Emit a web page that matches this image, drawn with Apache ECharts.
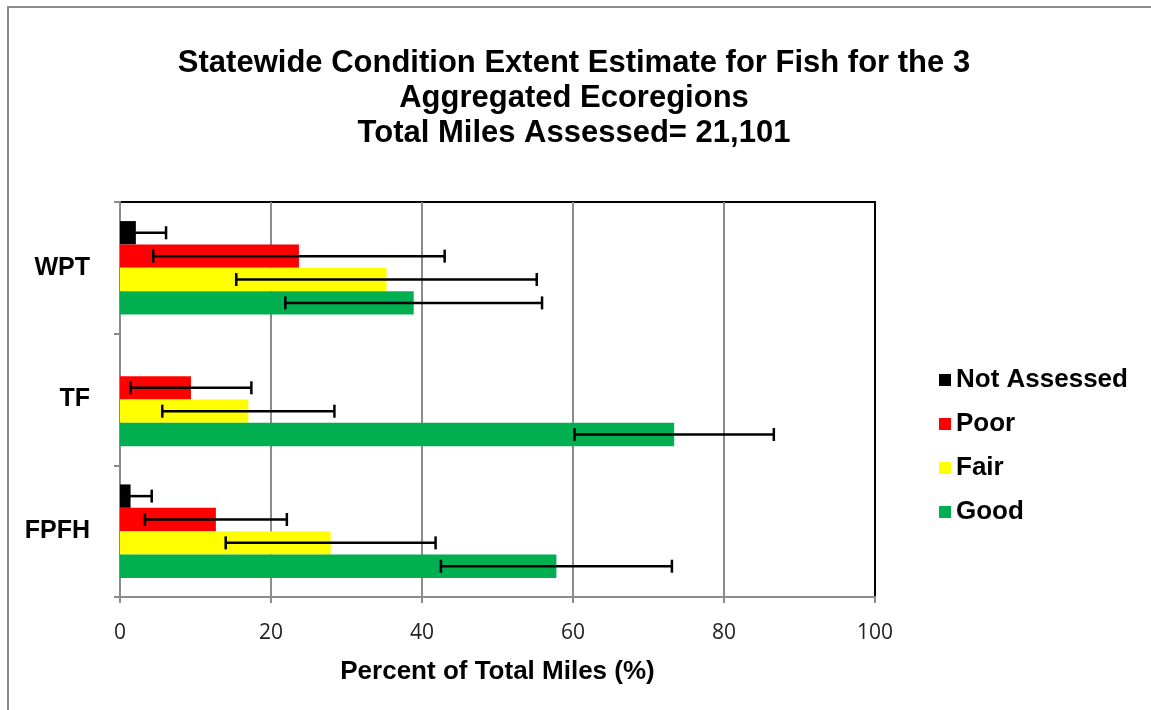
<!DOCTYPE html>
<html>
<head>
<meta charset="utf-8">
<script src="https://cdn.jsdelivr.net/npm/echarts@6/dist/echarts.min.js"></script>
<style>
  html, body { margin: 0; padding: 0; background: #fff; }
  #chart { width: 1151px; height: 710px; }
</style>
</head>
<body>
<div id="chart"></div>
<script>
// categories from bottom to top (category axis starts at the bottom)
const regions = ['FPFH', 'TF', 'WPT']
const seriesNames = ['Not Assessed', 'Poor', 'Fair', 'Good']
const seriesColors = ['#000000', '#ff0000', '#ffff00', '#00b050']

// percent of total miles, per region (FPFH, TF, WPT)
const notAssessed = [1.4, 0, 2.1]
const poor = [12.7, 9.4, 23.7]
const fair = [27.9, 17.0, 35.3]
const good = [57.8, 73.4, 38.9]

// error bar half widths (+/-)
const errNotAssessed = [2.8, 0, 4.0]
const errPoor = [9.4, 8.0, 19.3]
const errFair = [13.9, 11.4, 19.9]
const errGood = [15.3, 13.2, 17.0]

const xTicks = [0, 20, 40, 60, 80, 100]

const values = [notAssessed, poor, fair, good]
const errors = [errNotAssessed, errPoor, errFair, errGood]
const catGap = 0.29

// error bar rows: [regionIndex, low, high, seriesIndex]
const errData = []
values.forEach((vals, s) => {
  vals.forEach((v, i) => {
    if (!errors[s][i]) return
    errData.push([i, v - errors[s][i], v + errors[s][i], s])
  })
})

const chart = echarts.init(document.getElementById('chart'))

const barSeries = seriesNames.map((name, s) => ({
  name: name,
  type: 'bar',
  data: values[s],
  barGap: 0,
  barCategoryGap: (catGap * 100) + '%',
  itemStyle: { color: seriesColors[s] },
  z: 2
}))

const option = {
  animation: false,
  textStyle: { fontFamily: 'Liberation Sans, Arial, sans-serif' },
  title: {
    text: 'Statewide Condition Extent Estimate for Fish for the 3\nAggregated Ecoregions\nTotal Miles Assessed= 21,101',
    left: 569,
    textAlign: 'center',
    top: 41,
    textStyle: {
      fontSize: 31,
      fontWeight: 'bold',
      color: '#000',
      lineHeight: 35,
      fontFamily: 'Liberation Sans, Arial, sans-serif'
    }
  },
  legend: {
    orient: 'vertical',
    left: 934,
    top: 362,
    itemWidth: 12,
    itemHeight: 12,
    itemGap: 18,
    icon: 'rect',
    data: seriesNames,
    textStyle: { fontSize: 26, fontWeight: 'bold', color: '#000' }
  },
  grid: {
    left: 120,
    right: 276,
    top: 202,
    bottom: 113,
    show: true,
    borderColor: '#000',
    borderWidth: 2
  },
  xAxis: {
    type: 'value',
    min: 0,
    max: 100,
    interval: 20,
    name: 'Percent of Total Miles (%)',
    nameLocation: 'middle',
    nameGap: 62,
    nameTextStyle: { fontSize: 26, fontWeight: 'bold', color: '#000' },
    axisLine: { show: true, lineStyle: { color: '#8c8c8c', width: 2 } },
    axisTick: { show: true, length: 6, lineStyle: { color: '#8c8c8c', width: 2 } },
    axisLabel: {
      margin: 26,
      fontSize: 21,
      color: '#222',
      fontFamily: 'Open Sans, sans-serif',
      formatter: v => xTicks.includes(v) ? String(v) : ''
    },
    splitLine: { show: true, showMaxLine: false, lineStyle: { color: '#8c8c8c', width: 2 } }
  },
  yAxis: {
    type: 'category',
    data: regions,
    axisLine: { show: true, lineStyle: { color: '#8c8c8c', width: 2 } },
    axisTick: { show: true, length: 6, lineStyle: { color: '#8c8c8c', width: 2 } },
    axisLabel: { margin: 30, fontSize: 25, fontWeight: 'bold', color: '#000' }
  },
  graphic: [{
    type: 'polyline',
    shape: { points: [[8, 710], [8, 7], [1151, 7]] },
    style: { stroke: '#8c8c8c', lineWidth: 2, fill: null },
    silent: true
  }],
  series: barSeries.concat([{
    type: 'custom',
    name: 'errors',
    data: errData,
    encode: { x: [1, 2], y: 0 },
    z: 5,
    renderItem: (params, api) => {
      const ci = api.value(0)
      const lo = Math.max(0, api.value(1))
      const hi = api.value(2)
      const s = api.value(3)
      const bandH = api.size([0, 1])[1]
      const groupH = bandH * (1 - catGap)
      const bw = groupH / seriesNames.length
      const offset = -groupH / 2 + bw * (s + 0.5)
      const pLo = api.coord([lo, ci])
      const pHi = api.coord([hi, ci])
      const y = pLo[1] + offset
      const cap = 6.5
      const style = { stroke: '#000', lineWidth: 2.5 }
      const children = [
        { type: 'line', shape: { x1: pLo[0], y1: y, x2: pHi[0], y2: y }, style: style },
        { type: 'line', shape: { x1: pHi[0], y1: y - cap, x2: pHi[0], y2: y + cap }, style: style }
      ]
      if (api.value(1) > 0) {
        children.push({ type: 'line', shape: { x1: pLo[0], y1: y - cap, x2: pLo[0], y2: y + cap }, style: style })
      }
      return { type: 'group', children: children }
    }
  }])
}

chart.setOption(option)
</script>
</body>
</html>
